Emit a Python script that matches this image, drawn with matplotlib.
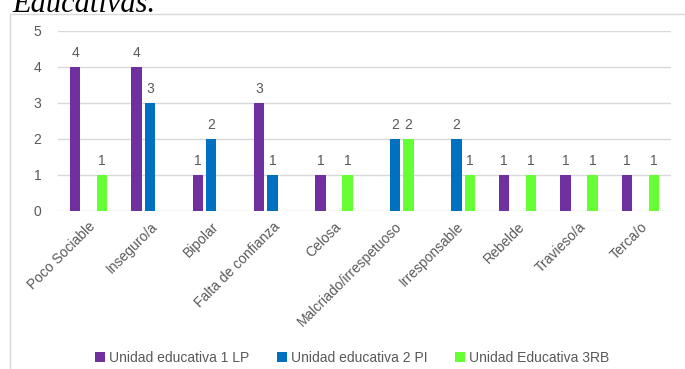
import numpy as np
import matplotlib
matplotlib.use("Agg")
import matplotlib.pyplot as plt
from matplotlib.patches import Rectangle

categories = ["Poco Sociable", "Inseguro/a", "Bipolar", "Falta de confianza", "Celosa",
              "Malcriado/irrespetuoso", "Irresponsable", "Rebelde", "Travieso/a", "Terca/o"]
lp = [4, 4, 1, 3, 1, 0, 0, 1, 1, 1]
pi = [0, 3, 2, 1, 0, 2, 2, 0, 0, 0]
rb = [1, 0, 0, 0, 1, 2, 1, 1, 1, 1]
series_names = ["Unidad educativa 1 LP", "Unidad educativa 2 PI", "Unidad Educativa 3RB"]
colors = ["#7030A0", "#0070C0", "#66FF33"]
text_color = "#595959"

plt.rcParams["font.family"] = ["Liberation Sans", "DejaVu Sans"]

fig = plt.figure(figsize=(6.85, 3.69), dpi=100)
W, H = 685, 369

# outer chart frame (cut off at right and bottom)
fig.patches.append(Rectangle((10 / W, -0.05), 1.0, (H - 14) / H + 0.05, transform=fig.transFigure,
                             fill=False, edgecolor="#D9D9D9", linewidth=1.0))

# cut-off caption text above the chart
fig.text(12 / W, 1 - 12 / H, "Educativas.", family="Liberation Serif", style="italic",
         fontsize=22, color="black", ha="left", va="baseline")

ax = fig.add_axes([58 / W, 1 - 211 / H, 613 / W, 180 / H])

x = np.arange(len(categories))
width = 0.17
step = 0.22
for k, (vals, c, name) in enumerate(zip([lp, pi, rb], colors, series_names)):
    pos = x + (k - 1) * step
    vals = np.array(vals)
    mask = vals > 0
    ax.bar(pos[mask], vals[mask], width=width, color=c, label=name, zorder=3)
    for p, v in zip(pos[mask], vals[mask]):
        ax.text(p, v + 0.2, f"{v}", ha="center", va="bottom", fontsize=10, color=text_color)

ax.set_xlim(-0.5, len(categories) - 0.5)
ax.set_ylim(0, 5)
ax.set_yticks(range(6))
ax.yaxis.grid(True, color="#D9D9D9", linewidth=1.0, zorder=0)
for s in ax.spines.values():
    s.set_visible(False)
ax.tick_params(axis="both", length=0, colors=text_color, labelsize=10)
ax.tick_params(axis="y", pad=12)
ax.set_xticks(x)
ax.set_xticklabels(categories, rotation=45, ha="right", rotation_mode="anchor")
ax.tick_params(axis="x", pad=6)

fig.legend(loc="lower center", bbox_to_anchor=(0.514, -0.022), ncol=3, frameon=False,
           fontsize=10, handlelength=0.7, handleheight=0.7, handletextpad=0.3,
           columnspacing=2.0, labelcolor=text_color)

fig.savefig("out.png", dpi=100, facecolor="white")
